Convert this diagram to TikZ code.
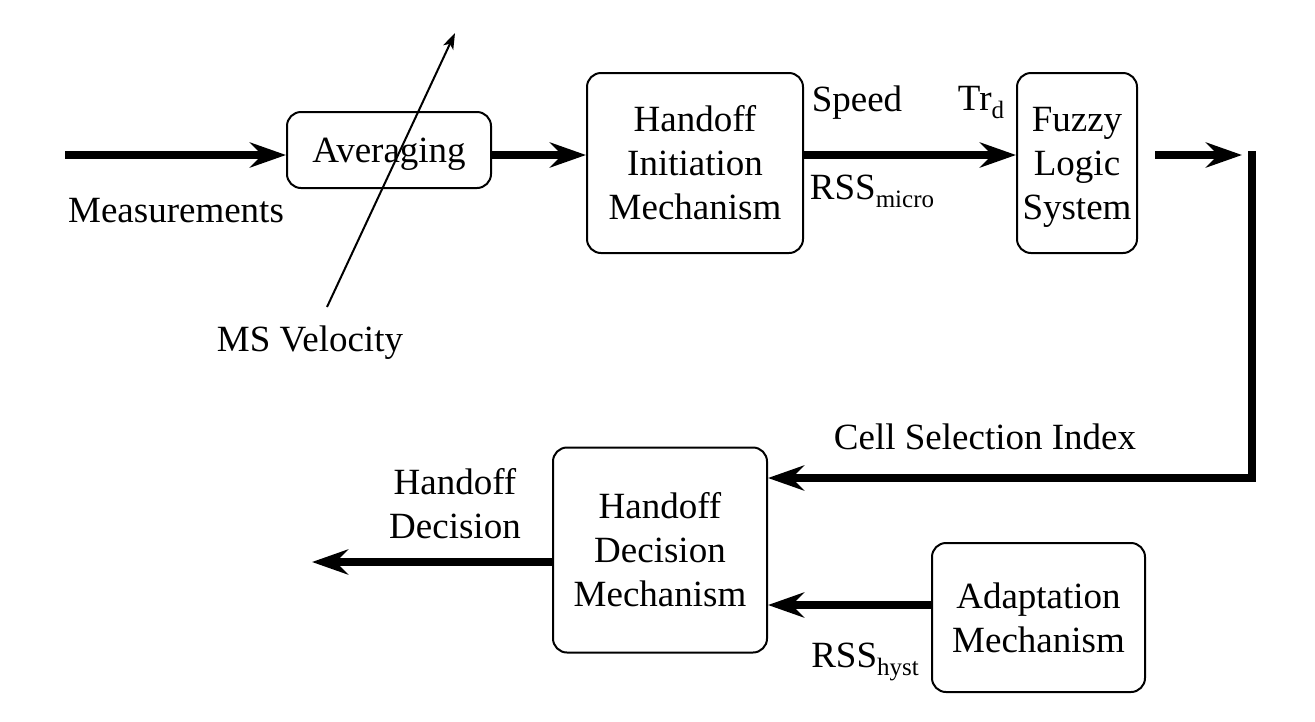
\documentclass[tikz,border=0pt]{standalone}
\usepackage{fontspec}
\setmainfont{Liberation Serif}
\usetikzlibrary{arrows.meta,calc}
\tikzset{
  blk/.style={draw, line width=2pt, rounded corners=14pt, align=center, inner sep=0pt},
  lbl/.style={inner sep=0pt, align=center},
  flow/.style={line width=8pt, -{Stealth[length=36pt,width=25pt,inset=12pt]}},
  thin/.style={line width=2pt, -{Stealth[length=16pt,width=11pt,inset=4pt]}},
}
\newcommand{\sbx}[1]{\raisebox{-8pt}{\fontsize{25}{25}\selectfont #1}}
\begin{document}
\begin{tikzpicture}[x=1pt,y=-1pt, font=\fontsize{37}{44}\selectfont]
\useasboundingbox (0,0) rectangle (1315,721);
% boxes
\node[blk, minimum width=204pt, minimum height=76pt, text depth=0pt] (avg) at (389,150) {Averaging};
\node[blk, minimum width=216pt, minimum height=180pt] (him) at (695,163) {Handoff\\Initiation\\Mechanism};
\node[blk, minimum width=120pt, minimum height=180pt, text depth=0pt] (fz) at (1077,163) {Fuzzy\\Logic\\System};
\node[blk, minimum width=214pt, minimum height=205pt] (hdm) at (660,550) {Handoff\\Decision\\Mechanism};
\node[blk, minimum width=213pt, minimum height=149pt] (adp) at (1038.5,617.5) {Adaptation\\Mechanism};
% coordinates
\coordinate (m0) at (65,155);
\coordinate (f1) at (1155,155);
\coordinate (f2) at (1242,155);
\coordinate (c1) at (1252,151);
\coordinate (c2) at (1252,478);
\coordinate (ho) at (312,562);
\coordinate (a0) at (932,605);
\coordinate (v0) at (327,307);
\coordinate (v1) at (455,33);
% connectors
\draw[flow] (m0) -- (m0 -| avg.west);
\draw[flow] (avg.east |- m0) -- (m0 -| him.west);
\draw[flow] (him.east |- m0) -- (m0 -| fz.west);
\draw[flow] (f1) -- (f2);
\draw[flow] (c1) -- (c2) -- (c2 -| hdm.east);
\draw[flow] (hdm.west |- ho) -- (ho);
\draw[flow] (a0 -| adp.west) -- (a0 -| hdm.east);
\draw[thin] (v0) -- (v1);
% labels
\node[lbl] (meas) at (176,211) {Measurements};
\node[lbl] (msv) at (310,343) {MS Velocity};
\node[lbl] (spd) at (857,103) {Speed};
\node[lbl] (trd) at (981,103) {Tr\sbx{d}};
\node[lbl] (rssm) at (872,191) {RSS\sbx{micro}};
\node[lbl] (csi) at (985,437) {Cell Selection Index};
\node[lbl] (hd) at (455,504) {Handoff\\Decision};
\node[lbl] (rssh) at (865,662) {RSS\sbx{hyst}};
\end{tikzpicture}
\end{document}
